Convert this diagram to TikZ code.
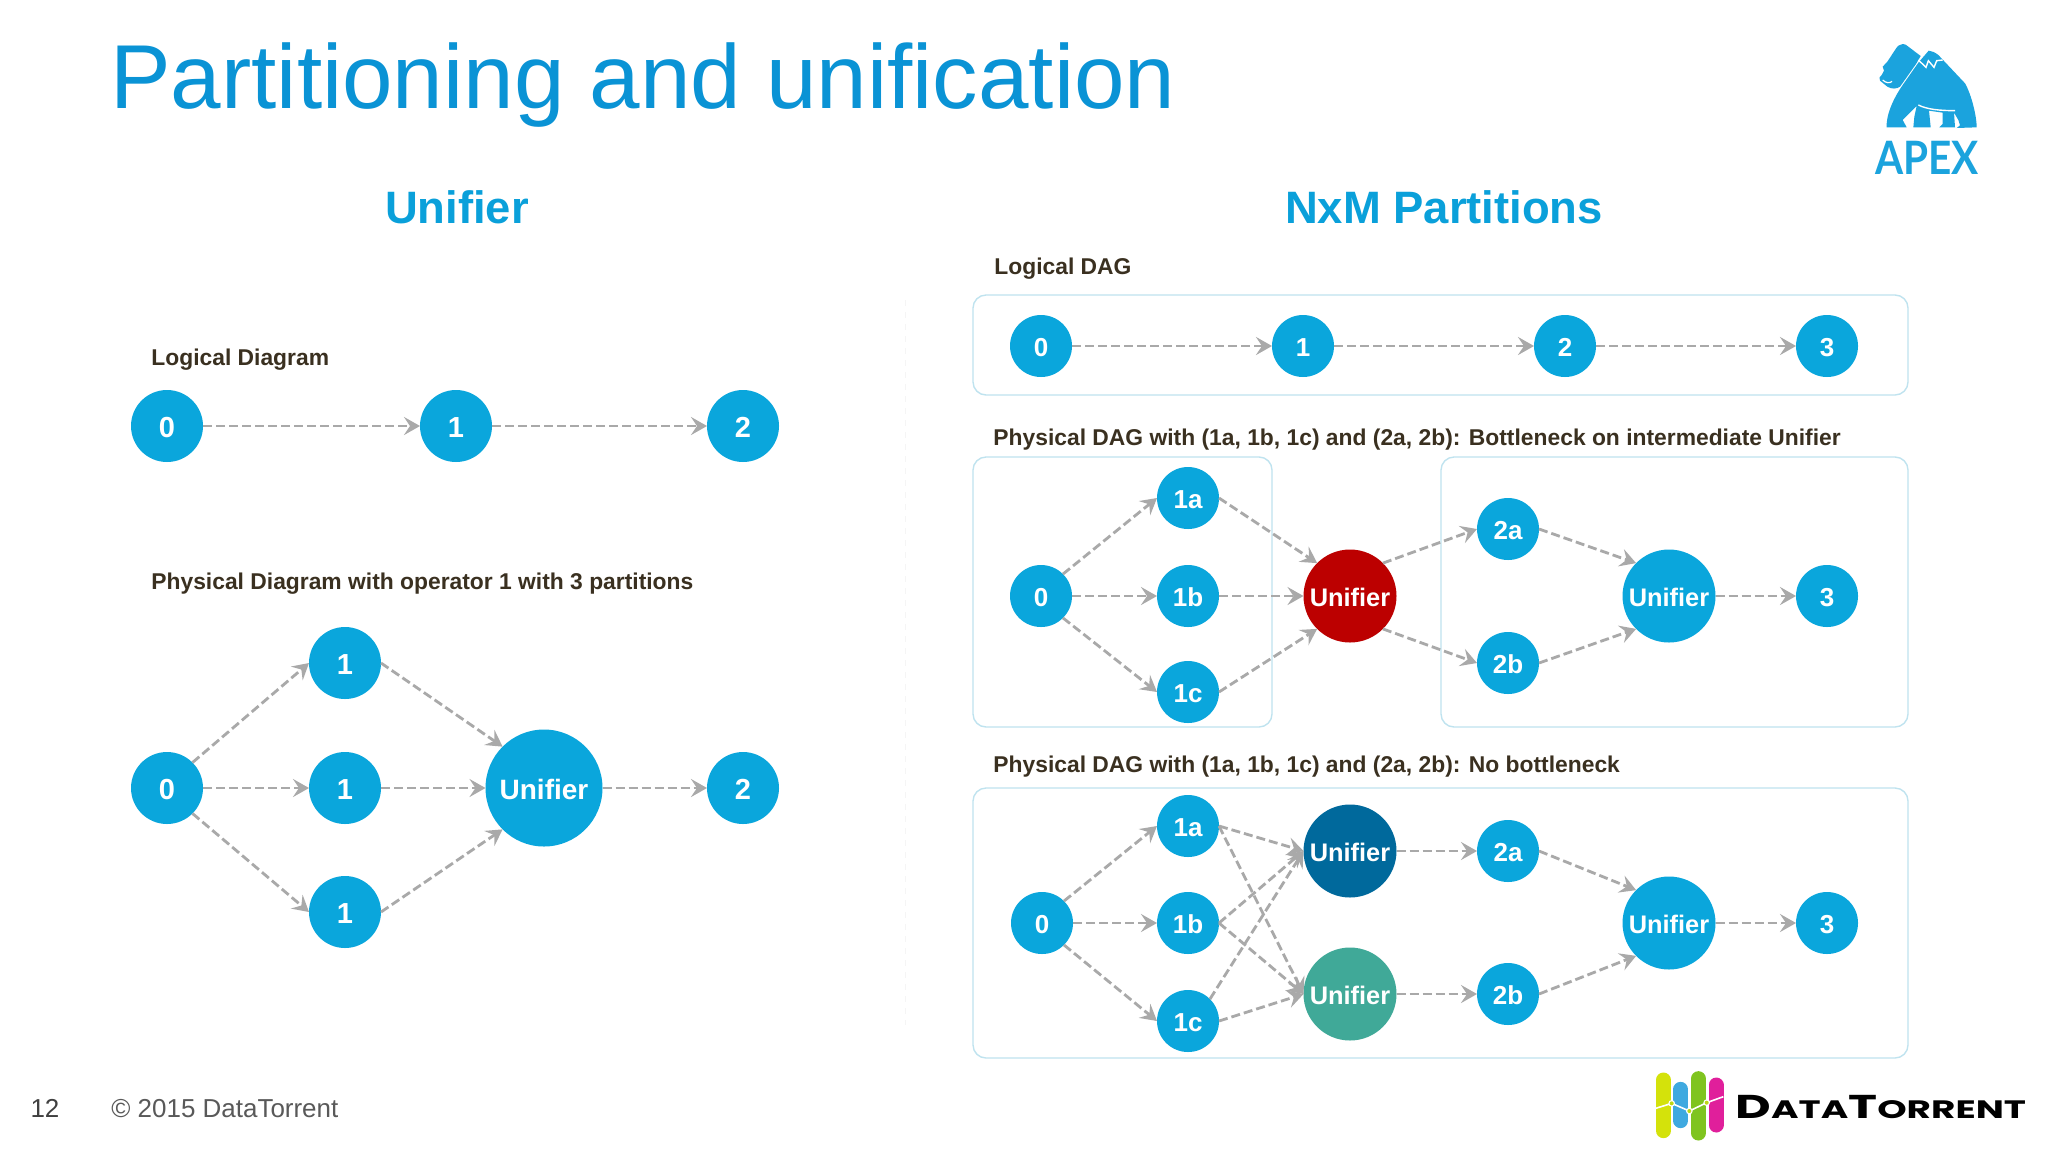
\documentclass[tikz,border=0pt]{standalone}
\usepackage{fontspec}
\setmainfont{Liberation Sans}
\newfontfamily\apexfont{Lato}
\newfontfamily\brandfont{Poppins}
\usetikzlibrary{arrows.meta}
\definecolor{opblue}{HTML}{0AA6DC}
\definecolor{titleblue}{HTML}{0A93D5}
\definecolor{headblue}{HTML}{0AA0DA}
\definecolor{logoblue}{HTML}{1BA3DD}
\definecolor{boxline}{HTML}{BFE3EF}
\definecolor{flowgray}{HTML}{A9A9A9}
\definecolor{labeltext}{HTML}{3A3020}
\definecolor{footgray}{HTML}{595959}
\definecolor{redunifier}{HTML}{BC0000}
\definecolor{darkunifier}{HTML}{00699C}
\definecolor{tealunifier}{HTML}{40A998}
\definecolor{barlime}{HTML}{D4E20B}
\definecolor{barblue}{HTML}{3FA9E0}
\definecolor{bargreen}{HTML}{7FC41F}
\definecolor{barpink}{HTML}{E01F9B}
\definecolor{bardot}{HTML}{BED714}
\tikzset{
  opnode/.style={circle, fill=opblue, text=white, font=\bfseries\fontsize{13}{13}\selectfont, text height=10.3pt, text depth=0pt, minimum size=31pt, inner sep=0pt, outer sep=0pt},
  bigop/.style={opnode, minimum size=36pt, text height=11.4pt, font=\bfseries\fontsize{14.5}{14.5}\selectfont},
  unifier/.style={opnode, minimum size=46.5pt, text height=10.3pt, font=\bfseries\fontsize{12.7}{12.7}\selectfont},
  bigunifier/.style={opnode, minimum size=58.5pt, text height=11.2pt, font=\bfseries\fontsize{14}{14}\selectfont},
  flow/.style={->, >={Stealth[length=8pt, width=9pt, inset=3pt]}, draw=flowgray, line width=1.4pt, dash pattern=on 4.5pt off 2pt},
  panel/.style={draw=boxline, line width=0.7pt, rounded corners=6.5pt},
  difflabel/.style={anchor=base west, text=labeltext, font=\bfseries\fontsize{11.42}{12}\selectfont, inner sep=0pt},
  heading/.style={anchor=base, text=headblue, font=\bfseries\fontsize{22.7}{24}\selectfont, inner sep=0pt},
  foot/.style={anchor=base west, text=footgray, font=\fontsize{12.98}{13}\selectfont, inner sep=0pt}
}
\begin{document}
\begin{tikzpicture}[x=0.5pt, y=-0.5pt]
  \fill[white] (0,0) rectangle (2048,1152);
  \useasboundingbox (0,0) rectangle (2048,1152);
  \draw (110,108) node (title) [anchor=base west, inner sep=0pt, text=titleblue, font=\fontsize{45.4}{46}\selectfont] {Partitioning and unification};
  \draw (457,223) node (head_u) [heading] {Unifier};
  \draw (1444,223) node (head_nm) [heading] {NxM Partitions};
  \draw (45,1117) node (pageno) [foot, anchor=base, text=black!75] {12};
  \draw (111,1117) node (copy) [foot] {© 2015 DataTorrent};
  \draw[black!4, dashed] (905,300) -- (905,1025);

  \draw (151,365) node (lab_l) [difflabel] {Logical Diagram};
  \draw (151,589) node (lab_p) [difflabel] {Physical Diagram with operator 1 with 3 partitions};
  \draw (167,426) node (l_0) [bigop] {0};
  \draw (456,426) node (l_1) [bigop] {1};
  \draw (743,426) node (l_2) [bigop] {2};
  \draw [flow] (l_0) -- (l_1);
  \draw [flow] (l_1) -- (l_2);

  \draw (167,788) node (p_0) [bigop] {0};
  \draw (345,663) node (p_1a) [bigop] {1};
  \draw (345,788) node (p_1b) [bigop] {1};
  \draw (345,912) node (p_1c) [bigop] {1};
  \draw (544,788) node (p_u) [bigunifier] {Unifier};
  \draw (743,788) node (p_2) [bigop] {2};
  \draw [flow] (p_0.north east) -- (p_1a.west);
  \draw [flow] (p_0) -- (p_1b);
  \draw [flow] (p_0.south east) -- (p_1c.west);
  \draw [flow] (p_1a.east) -- (p_u.north west);
  \draw [flow] (p_1b) -- (p_u);
  \draw [flow] (p_1c.east) -- (p_u.south west);
  \draw [flow] (p_u) -- (p_2);

  \draw (994,274) node (lab_a) [difflabel] {Logical DAG};
  \draw (993,445) node (lab_b) [difflabel] {Physical DAG with (1a, 1b, 1c) and (2a, 2b): Bottleneck on intermediate Unifier};
  \draw (993,772) node (lab_c) [difflabel] {Physical DAG with (1a, 1b, 1c) and (2a, 2b): No bottleneck};
  \draw [panel] (973,295) rectangle (1908,395);
  \draw [panel] (973,457) rectangle (1272,727);
  \draw [panel] (1441,457) rectangle (1908,727);
  \draw [panel] (973,788) rectangle (1908,1058);

  \draw (1041,346) node (a_0) [opnode] {0};
  \draw (1303,346) node (a_1) [opnode] {1};
  \draw (1565,346) node (a_2) [opnode] {2};
  \draw (1827,346) node (a_3) [opnode] {3};
  \draw [flow] (a_0) -- (a_1);
  \draw [flow] (a_1) -- (a_2);
  \draw [flow] (a_2) -- (a_3);

  \draw (1041,596) node (b_0) [opnode] {0};
  \draw (1188,498) node (b_1a) [opnode] {1a};
  \draw (1188,596) node (b_1b) [opnode] {1b};
  \draw (1188,692) node (b_1c) [opnode] {1c};
  \draw (1350,596) node (b_u) [unifier, fill=redunifier] {Unifier};
  \draw (1508,529) node (b_2a) [opnode] {2a};
  \draw (1508,663) node (b_2b) [opnode] {2b};
  \draw (1669,596) node (b_v) [unifier] {Unifier};
  \draw (1827,596) node (b_3) [opnode] {3};
  \draw [flow] (b_0.north east) -- (b_1a.west);
  \draw [flow] (b_0) -- (b_1b);
  \draw [flow] (b_0.south east) -- (b_1c.west);
  \draw [flow] (b_1a.east) -- (b_u.north west);
  \draw [flow] (b_1b) -- (b_u);
  \draw [flow] (b_1c.east) -- (b_u.south west);
  \draw [flow] (b_u.north east) -- (b_2a.west);
  \draw [flow] (b_u.south east) -- (b_2b.west);
  \draw [flow] (b_2a.east) -- (b_v.north west);
  \draw [flow] (b_2b.east) -- (b_v.south west);
  \draw [flow] (b_v) -- (b_3);

  \draw (1042,923) node (c_0) [opnode] {0};
  \draw (1188,826) node (c_1a) [opnode] {1a};
  \draw (1188,923) node (c_1b) [opnode] {1b};
  \draw (1188,1021) node (c_1c) [opnode] {1c};
  \draw (1350,851) node (c_u) [unifier, fill=darkunifier] {Unifier};
  \draw (1350,994) node (c_w) [unifier, fill=tealunifier] {Unifier};
  \draw (1508,851) node (c_2a) [opnode] {2a};
  \draw (1508,994) node (c_2b) [opnode] {2b};
  \draw (1669,923) node (c_v) [unifier] {Unifier};
  \draw (1827,923) node (c_3) [opnode] {3};
  \draw [flow] (c_0.north east) -- (c_1a.west);
  \draw [flow] (c_0) -- (c_1b);
  \draw [flow] (c_0.south east) -- (c_1c.west);
  \draw [flow] (c_1a.east) -- (c_u.west);
  \draw [flow] (c_1a.east) -- (c_w.west);
  \draw [flow] (c_1b.east) -- (c_u.west);
  \draw [flow] (c_1b.east) -- (c_w.west);
  \draw [flow] (c_1c.north east) -- (c_u.west);
  \draw [flow] (c_1c.east) -- (c_w.west);
  \draw [flow] (c_u) -- (c_2a);
  \draw [flow] (c_w) -- (c_2b);
  \draw [flow] (c_2a.east) -- (c_v.north west);
  \draw [flow] (c_2b.east) -- (c_v.south west);
  \draw [flow] (c_v) -- (c_3);

  \begin{scope}[shift={(1780,20)}, scale=1/3]
    \fill[logoblue] (368,72) .. controls (375,72) and (380,75) .. (385,80) -- (422,108) -- (408,132) -- (360,200)
      .. controls (350,207) and (335,208) .. (322,200) -- (300,182) .. controls (296,175) and (298,170) .. (305,165)
      -- (312,152) -- (308,140) -- (322,125) -- (345,90) .. controls (352,78) and (360,72) .. (368,72) -- cycle;
    \fill[logoblue] (446,92) .. controls (456,92) and (465,98) .. (475,105) -- (555,190)
      .. controls (575,225) and (590,290) .. (590,322) -- (530,324) -- (540,316) -- (535,300) -- (522,278) -- (525,322)
      -- (478,322) -- (488,312) -- (488,278) -- (447,272) -- (452,322) -- (400,322) -- (403,290) -- (410,258)
      -- (368,300) -- (380,322) -- (320,322) .. controls (318,290) and (335,240) .. (375,185) -- (415,128) -- cycle;
    \draw[white, line width=0.7pt] (415,255) .. controls (440,268) and (480,272) .. (525,272);
    \draw[white, line width=0.7pt] (415,120) -- (438,142) -- (445,122) -- (462,142) -- (470,122) -- (488,120);
    \draw[white, line width=0.6pt] (308,180) .. controls (318,190) and (330,190) .. (336,184);
  \end{scope}
  \draw (1927,174) node (apex) [anchor=base, inner sep=0pt, text=logoblue, font=\apexfont\bfseries\fontsize{23}{23}\selectfont] {\scalebox{0.88}[1]{APEX}};

  \begin{scope}[shift={(1620,1050)}, scale=1/3]
    \draw[barlime, line width=7.5pt, line cap=round] (130,90) -- (130,242);
    \draw[barblue, line width=7.5pt, line cap=round] (182,118) -- (182,212);
    \draw[bargreen, line width=7.5pt, line cap=round] (235,86) -- (235,249);
    \draw[barpink, line width=7.5pt, line cap=round] (288,105) -- (288,225);
    \draw[white, line width=0.8pt] (107,175) -- (155,160) -- (208,183) -- (260,158) -- (310,140);
    \fill[white] (155,160) circle (10) (208,183) circle (10) (260,158) circle (10);
    \fill[bardot] (155,160) circle (6) (208,183) circle (6) (260,158) circle (6);
  \end{scope}
  \draw (1735,1118) node (brand) [anchor=base west, inner sep=0pt, font=\brandfont\bfseries] {\scalebox{1.485}[1]{\fontsize{16.5}{17}\selectfont D\fontsize{12.6}{13}\selectfont ATA\fontsize{16.5}{17}\selectfont T\fontsize{12.6}{13}\selectfont ORRENT}};
\end{tikzpicture}
\end{document}
